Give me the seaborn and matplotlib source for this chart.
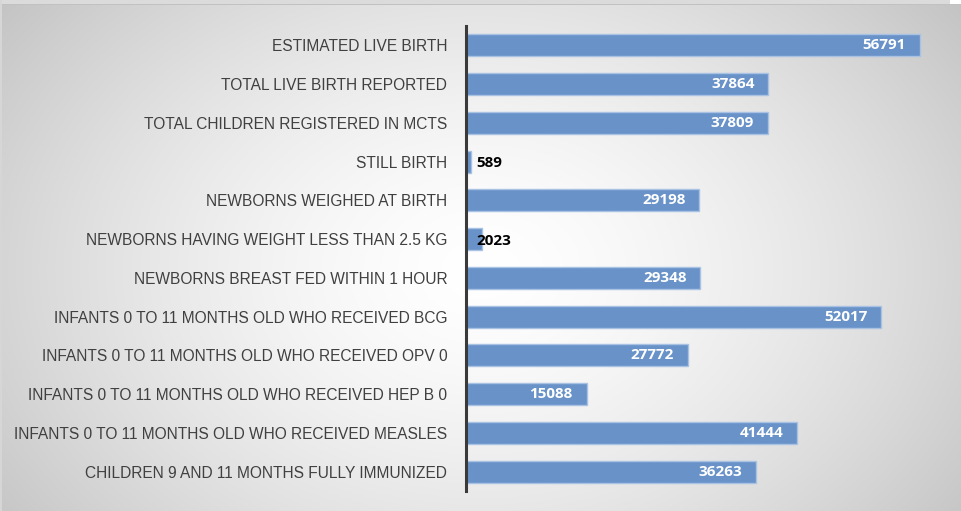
import numpy as np
import pandas as pd
import matplotlib
matplotlib.use("Agg")
import matplotlib.pyplot as plt
import seaborn as sns

categories = [
    "ESTIMATED LIVE BIRTH",
    "TOTAL LIVE BIRTH REPORTED",
    "TOTAL CHILDREN REGISTERED IN MCTS",
    "STILL BIRTH",
    "NEWBORNS WEIGHED AT BIRTH",
    "NEWBORNS HAVING WEIGHT LESS THAN 2.5 KG",
    "NEWBORNS BREAST FED WITHIN 1 HOUR",
    "INFANTS 0 TO 11 MONTHS OLD WHO RECEIVED BCG",
    "INFANTS 0 TO 11 MONTHS OLD WHO RECEIVED OPV 0",
    "INFANTS 0 TO 11 MONTHS OLD WHO RECEIVED HEP B 0",
    "INFANTS 0 TO 11 MONTHS OLD WHO RECEIVED MEASLES",
    "CHILDREN 9 AND 11 MONTHS FULLY IMMUNIZED",
]
values = [56791, 37864, 37809, 589, 29198, 2023, 29348, 52017, 27772, 15088, 41444, 36263]

df = pd.DataFrame({"category": categories, "value": values})

sns.set_theme(style="white")
plt.rcParams["font.family"] = ["Liberation Sans", "DejaVu Sans"]

W, H = 962, 511
fig = plt.figure(figsize=(W / 100, H / 100), dpi=100)

# background: radial grey gradient
bg = fig.add_axes([0, 0, 1, 1])
yy, xx = np.mgrid[0:H, 0:W]
r = np.sqrt(((xx - 480) / 480.0) ** 2 + ((yy - 270) / 350.0) ** 2)
shade = np.clip(255 - 42 * r ** 1.5, 190, 255)
img = np.dstack([shade] * 3) / 255.0
img[0:4, :950] = 0.86
img[0:4, 950:] = 1.0
img[4, :] = 0.76
img[:, 0:2] = 0.84
bg.imshow(img, aspect="auto", extent=[0, W, H, 0])
bg.set_axis_off()

ax = fig.add_axes([466 / W, 1 - 491 / H, (950 - 466) / W, (491 - 26) / H])
ax.patch.set_alpha(0)

sns.barplot(data=df, y="category", x="value", orient="h", ax=ax,
            color="#6892c8", saturation=1, width=0.57,
            edgecolor="#a9c2e3", linewidth=1)

ax.set_xlim(0, 60600)
ax.set_ylim(11.5, -0.5)
ax.set_xlabel("")
ax.set_ylabel("")
ax.set_xticks([])
ax.tick_params(axis="y", length=0, pad=13.5, labelsize=11.2, labelcolor="#404040")
for s in ["top", "right", "bottom"]:
    ax.spines[s].set_visible(False)
ax.spines["left"].set_color("#3a3a3a")
ax.spines["left"].set_linewidth(2.2)

for i, v in enumerate(values):
    if v > 5000:
        ax.annotate(str(v), xy=(v, i), xytext=(-10, 0), textcoords="offset points",
                    ha="right", va="center", color="white", fontweight="bold",
                    fontsize=11, family=["Open Sans", "DejaVu Sans"])
    else:
        ax.annotate(str(v), xy=(0, i), xytext=(7.5, -1), textcoords="offset points",
                    ha="left", va="center", color="black", fontweight="bold",
                    fontsize=11, family=["Open Sans", "DejaVu Sans"])

fig.savefig("out.png", dpi=100)
